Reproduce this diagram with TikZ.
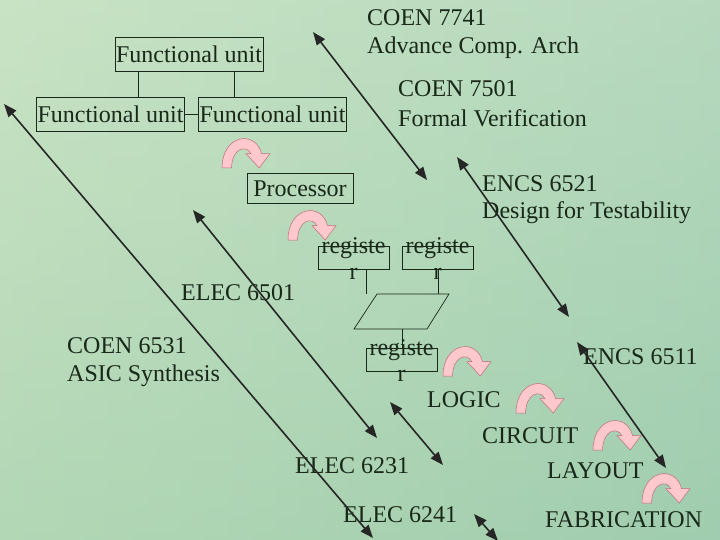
\documentclass[tikz,border=0pt]{standalone}
\usepackage{fontspec}
\setmainfont{Liberation Serif}
\usetikzlibrary{arrows.meta}
\definecolor{bgA}{RGB}{190,222,185}
\definecolor{bgB}{RGB}{160,205,175}
\definecolor{ink}{RGB}{25,40,25}
\definecolor{pinkf}{RGB}{255,200,205}
\definecolor{pinkd}{RGB}{190,110,120}
\tikzset{
  x=1pt,y=-1pt,
  lbl/.style={font=\fontsize{24}{28}\selectfont,text=ink,anchor=west,inner sep=0},
  fubox/.style={draw=ink,font=\fontsize{24}{28}\selectfont,text=ink,minimum width=148pt,minimum height=34pt,inner sep=0},
  regbox/.style={draw=ink,minimum width=71pt,minimum height=23pt,inner sep=0},
  regtxt/.style={font=\fontsize{24}{26}\selectfont,text=ink,inner sep=0,align=center},
  conn/.style={draw=ink,line width=0.7pt},
  dbl/.style={draw=black!85,line width=1.6pt,{Triangle[length=13pt,width=10pt]}-{Triangle[length=13pt,width=10pt]}},
  pics/curl/.style={code={
    \filldraw[fill=pinkf,draw=pinkd,line width=0.5pt,x=1.2pt,y=1.2pt]
      (0,0) -- (8,0) .. controls (8,16) and (20,20) .. (24,12) -- (20,12) -- (31,0) -- (40,12) -- (33,12)
      .. controls (28,32) and (0,28) .. (0,0) -- cycle;}}
}
\begin{document}
\begin{tikzpicture}
\useasboundingbox (0,0) rectangle (720,540);
\shade[left color=bgA,right color=bgB] (0,0) rectangle (720,540);
\shade[top color=bgA!60!white,bottom color=bgB,opacity=0.4] (0,0) rectangle (720,540);

% functional units
\node[fubox] (fu0) at (189,54.5) {Functional unit};
\node[fubox] (fu1) at (110.5,114) {Functional unit};
\node[fubox] (fu2) at (272.5,114) {Functional unit};
\draw[conn] (fu1) -- (fu2);
\draw[conn] (fu0.south -| 138,0) -- (fu1.north -| 138,0);
\draw[conn] (fu0.south -| 234,0) -- (fu2.north -| 234,0);

\node[draw=ink,font=\fontsize{24}{28}\selectfont,text=ink,minimum width=106pt,minimum height=30pt,inner sep=0] (proc) at (300,188.5) {Processor};

% registers
\node[regbox] (r1) at (353.5,257.5) {};
\node[regbox] (r2) at (437.5,257.5) {};
\node[regbox] (r3) at (401.5,359.5) {};
\node[regtxt] (t1) at (353.5,259) {registe\\r};
\node[regtxt] (t2) at (437.5,259) {registe\\r};
\node[regtxt] (t3) at (401.5,361) {registe\\r};
\draw[conn] (377,294) -- (449,294) -- (427,329) -- (354,329) -- cycle;
\coordinate (p1) at (366,294);
\coordinate (p2) at (438,294);
\coordinate (p3) at (402,329);
\draw[conn] (r1.south -| p1) -- (p1);
\draw[conn] (r2.south -| p2) -- (p2);
\draw[conn] (p3) -- (r3.north -| p3);

% labels
\node[lbl] (c7741) at (367,18) {COEN 7741};
\node[lbl] (c7741b) at (367,48) {Advance Comp. Arch};
\node[lbl] (c7501) at (398,89) {COEN 7501};
\node[lbl] (c7501b) at (398,118) {Formal Verification};
\node[lbl] (e6521) at (482,184) {ENCS 6521};
\node[lbl] (e6521b) at (482,213) {Design for Testability};
\node[lbl] (e6501) at (181,293) {ELEC 6501};
\node[lbl] (c6531) at (67,346) {COEN 6531};
\node[lbl] (c6531b) at (67,376) {ASIC Synthesis};
\node[lbl] (e6511) at (583,357) {ENCS 6511};
\node[lbl] (logic) at (427,400) {LOGIC};
\node[lbl] (circ) at (482,436) {CIRCUIT};
\node[lbl] (lay) at (547,471) {LAYOUT};
\node[lbl] (e6231) at (295,466) {ELEC 6231};
\node[lbl] (e6241) at (343,515) {ELEC 6241};
\node[lbl] (fab) at (545,520) {FABRICATION};

% curl arrows
\pic at (222,168) {curl};
\pic at (288,240) {curl};
\pic at (443,376) {curl};
\pic at (516,413) {curl};
\pic at (593,450) {curl};
\pic at (642,503) {curl};

% long arrows
\coordinate (a1) at (313,32); \coordinate (a2) at (427,180);
\coordinate (b1) at (4,104); \coordinate (b2) at (373,538);
\coordinate (c1) at (193,210); \coordinate (c2) at (377,438);
\coordinate (d1) at (390,402); \coordinate (d2) at (443,465);
\coordinate (e1) at (474,514); \coordinate (e2) at (498,541);
\coordinate (f1) at (457,157); \coordinate (f2) at (569,317);
\coordinate (g1) at (577,342); \coordinate (g2) at (666,468);
\foreach \u/\v in {a1/a2,b1/b2,c1/c2,d1/d2,e1/e2,f1/f2,g1/g2}
  \draw[dbl] (\u) -- (\v);
\end{tikzpicture}
\end{document}
